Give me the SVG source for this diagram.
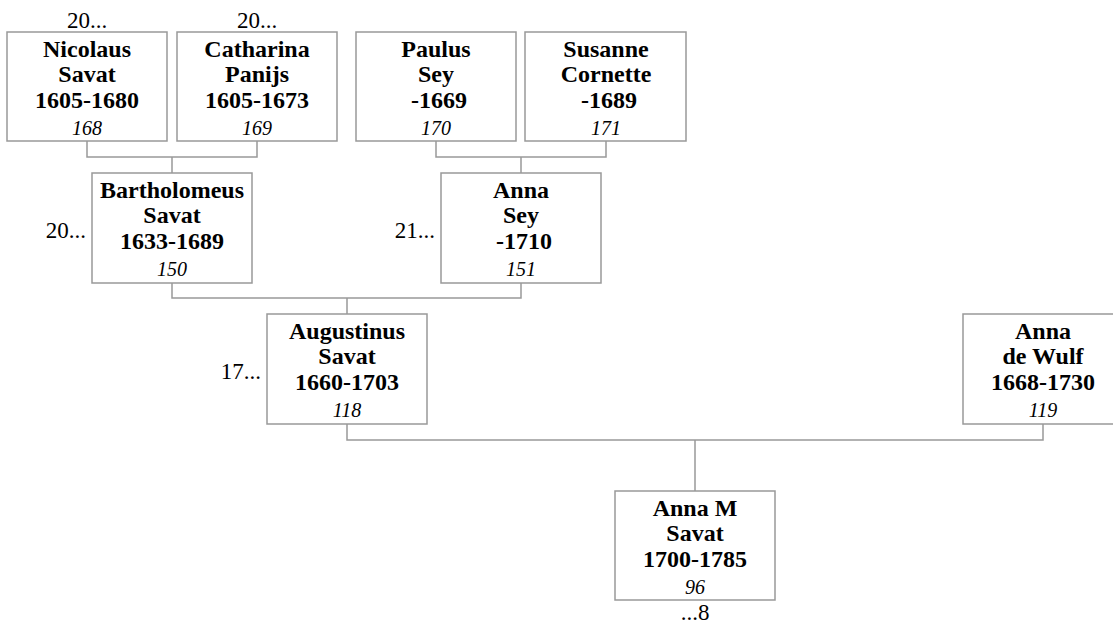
<svg xmlns="http://www.w3.org/2000/svg" width="1113" height="625" viewBox="0 0 1113 625">
<style>
text{font-family:'Liberation Serif','Times New Roman',Times,serif}
.box{fill:#fff;stroke:#999;stroke-width:1.5}
.n{font-weight:bold;font-size:24px;text-anchor:middle;fill:#000}
.i{font-style:italic;font-size:20px;text-anchor:middle;fill:#000}
.r{font-size:23px;fill:#000}
.c{fill:none;stroke:#999;stroke-width:1.5}
</style>
<rect width="1113" height="625" fill="#fff"/>
<g id="connectors">
<path class="c" d="M87,141V157H257V141M172,157V173"/>
<path class="c" d="M436,141V157H606V141M521,157V173"/>
<path class="c" d="M172,283V298H521V283M347,298V314"/>
<path class="c" d="M347,424V440H1043V424M695,440V491"/>
</g>
<g id="n168">
<rect class="box" x="7" y="32" width="160" height="109"/>
<text class="n" x="87" y="57">Nicolaus</text>
<text class="n" x="87" y="82">Savat</text>
<text class="n" x="87" y="108">1605-1680</text>
<text class="i" x="87" y="135">168</text>
<text class="r" x="87" y="28" text-anchor="middle">20...</text>
</g>
<g id="n169">
<rect class="box" x="177" y="32" width="160" height="109"/>
<text class="n" x="257" y="57">Catharina</text>
<text class="n" x="257" y="82">Panijs</text>
<text class="n" x="257" y="108">1605-1673</text>
<text class="i" x="257" y="135">169</text>
<text class="r" x="257" y="28" text-anchor="middle">20...</text>
</g>
<g id="n170">
<rect class="box" x="356" y="32" width="160" height="109"/>
<text class="n" x="436" y="57">Paulus</text>
<text class="n" x="436" y="82">Sey</text>
<text class="n" x="439" y="108">-1669</text>
<text class="i" x="436" y="135">170</text>
</g>
<g id="n171">
<rect class="box" x="525" y="32" width="161" height="109"/>
<text class="n" x="606" y="57">Susanne</text>
<text class="n" x="606" y="82">Cornette</text>
<text class="n" x="609" y="108">-1689</text>
<text class="i" x="606" y="135">171</text>
</g>
<g id="n150">
<rect class="box" x="92" y="173" width="160" height="110"/>
<text class="n" x="172" y="198">Bartholomeus</text>
<text class="n" x="172" y="223">Savat</text>
<text class="n" x="172" y="249">1633-1689</text>
<text class="i" x="172" y="276">150</text>
<text class="r" x="86" y="238" text-anchor="end">20...</text>
</g>
<g id="n151">
<rect class="box" x="441" y="173" width="160" height="110"/>
<text class="n" x="521" y="198">Anna</text>
<text class="n" x="521" y="223">Sey</text>
<text class="n" x="524" y="249">-1710</text>
<text class="i" x="521" y="276">151</text>
<text class="r" x="435" y="238" text-anchor="end">21...</text>
</g>
<g id="n118">
<rect class="box" x="267" y="314" width="160" height="110"/>
<text class="n" x="347" y="339">Augustinus</text>
<text class="n" x="347" y="364">Savat</text>
<text class="n" x="347" y="390">1660-1703</text>
<text class="i" x="347" y="417">118</text>
<text class="r" x="261" y="379" text-anchor="end">17...</text>
</g>
<g id="n119">
<rect class="box" x="963" y="314" width="160" height="110"/>
<text class="n" x="1043" y="339">Anna</text>
<text class="n" x="1043" y="364">de Wulf</text>
<text class="n" x="1043" y="390">1668-1730</text>
<text class="i" x="1043" y="417">119</text>
</g>
<g id="n96">
<rect class="box" x="615" y="491" width="160" height="109"/>
<text class="n" x="695" y="516">Anna M</text>
<text class="n" x="695" y="541">Savat</text>
<text class="n" x="695" y="567">1700-1785</text>
<text class="i" x="695" y="594">96</text>
<text class="r" x="695" y="620" text-anchor="middle">...8</text>
</g>
</svg>
